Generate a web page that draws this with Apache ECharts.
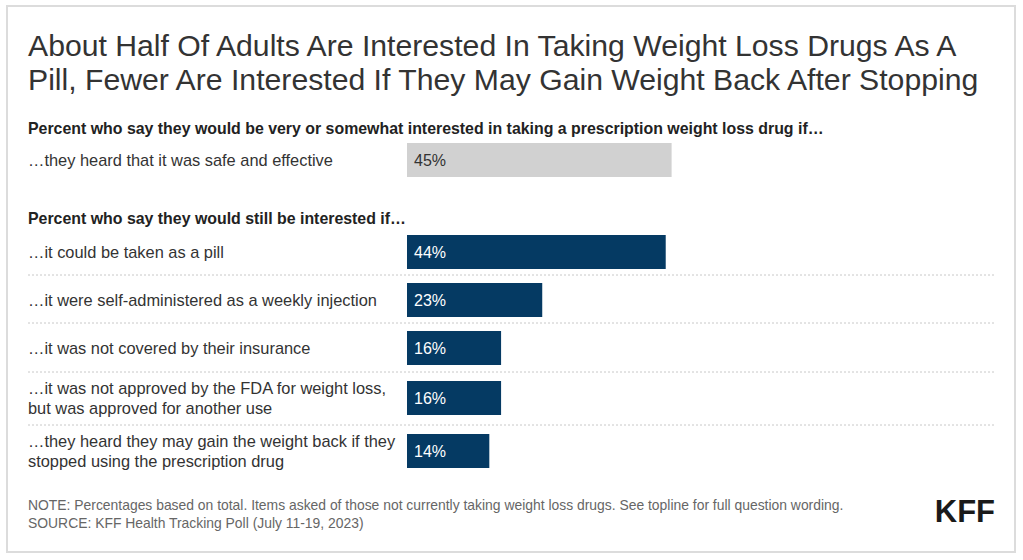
<!DOCTYPE html>
<html>
<head>
<meta charset="utf-8">
<script src="https://cdn.jsdelivr.net/npm/echarts@6/dist/echarts.min.js"></script>
<style>
html,body{margin:0;padding:0;background:#fff;}
#chart{width:1023px;height:560px;}
</style>
</head>
<body>
<div id="chart"></div>
<script>
// ---- data ----
const titleText = "About Half Of Adults Are Interested In Taking Weight Loss Drugs As A\nPill, Fewer Are Interested If They May Gain Weight Back After Stopping";
const section1Title = "Percent who say they would be very or somewhat interested in taking a prescription weight loss drug if\u2026";
const section2Title = "Percent who say they would still be interested if\u2026";
const categories = [
  "\u2026they heard that it was safe and effective",
  "\u2026it could be taken as a pill",
  "\u2026it were self-administered as a weekly injection",
  "\u2026it was not covered by their insurance",
  "\u2026it was not approved by the FDA for weight loss,\nbut was approved for another use",
  "\u2026they heard they may gain the weight back if they\nstopped using the prescription drug"
];
const values = [45, 44, 23, 16, 16, 14];
const noteText = "NOTE: Percentages based on total. Items asked of those not currently taking weight loss drugs. See topline for full question wording.\nSOURCE: KFF Health Tracking Poll (July 11-19, 2023)";
const logoText = "KFF";

// ---- layout (not data) ----
const rowTops = [143, 235, 283, 331, 381, 434];
const rowHeight = 34;
const plotLeft = 407, plotWidth = 588;
const separatorYs = [275, 323, 372, 425];
const FONT = "'Liberation Sans', Arial, Helvetica, sans-serif";

const grids = [], xAxes = [], yAxes = [], series = [];
categories.forEach((cat, i) => {
  const first = i === 0;
  grids.push({left: plotLeft, top: rowTops[i], width: plotWidth, height: rowHeight, containLabel: false});
  xAxes.push({type: 'value', gridIndex: i, min: 0, max: 100, show: false});
  yAxes.push({
    type: 'category', gridIndex: i, data: [cat],
    axisLine: {show: false}, axisTick: {show: false},
    axisLabel: {align: 'left', margin: plotLeft - 28, color: '#333', fontSize: 16.4, lineHeight: 20, fontFamily: FONT}
  });
  series.push({
    type: 'bar', xAxisIndex: i, yAxisIndex: i, data: [values[i]],
    barWidth: '100%', silent: true,
    itemStyle: {color: first ? '#d1d1d1' : '#053a63'},
    label: {show: true, position: 'insideLeft', distance: 7, formatter: '{c}%',
      color: first ? '#333' : '#fff', fontSize: 16, fontFamily: FONT}
  });
});

const graphics = [
  {type: 'rect', shape: {x: 7, y: 6, width: 1008, height: 546}, style: {fill: 'none', stroke: '#dcdcdc', lineWidth: 2}, z: -1}
];
separatorYs.forEach(y => {
  graphics.push({type: 'line', shape: {x1: 28, y1: y, x2: 995, y2: y},
    style: {stroke: '#c8c8c8', lineWidth: 1, lineDash: [2, 2]}});
});

const chart = echarts.init(document.getElementById('chart'), null, {renderer: 'svg'});
chart.setOption({
  animation: false,
  title: [
    {text: titleText, left: 28, top: 28, padding: 0,
      textStyle: {fontSize: 30.2, fontWeight: 'normal', color: '#333', lineHeight: 34.5, fontFamily: FONT}},
    {text: section1Title, left: 28, top: 119, padding: 0,
      textStyle: {fontSize: 15.9, fontWeight: 'bold', color: '#222', lineHeight: 18, fontFamily: FONT}},
    {text: section2Title, left: 28, top: 209, padding: 0,
      textStyle: {fontSize: 15.9, fontWeight: 'bold', color: '#222', lineHeight: 18, fontFamily: FONT}},
    {text: noteText, left: 28, top: 496, padding: 0,
      textStyle: {fontSize: 13.9, fontWeight: 'normal', color: '#666', lineHeight: 18, fontFamily: FONT}},
    {text: logoText, right: 28, top: 496, padding: 0,
      textStyle: {fontSize: 31, fontWeight: 'bold', color: '#1a1a1a', fontFamily: FONT}}
  ],
  grid: grids,
  xAxis: xAxes,
  yAxis: yAxes,
  series: series,
  graphic: graphics
});
</script>
</body>
</html>
